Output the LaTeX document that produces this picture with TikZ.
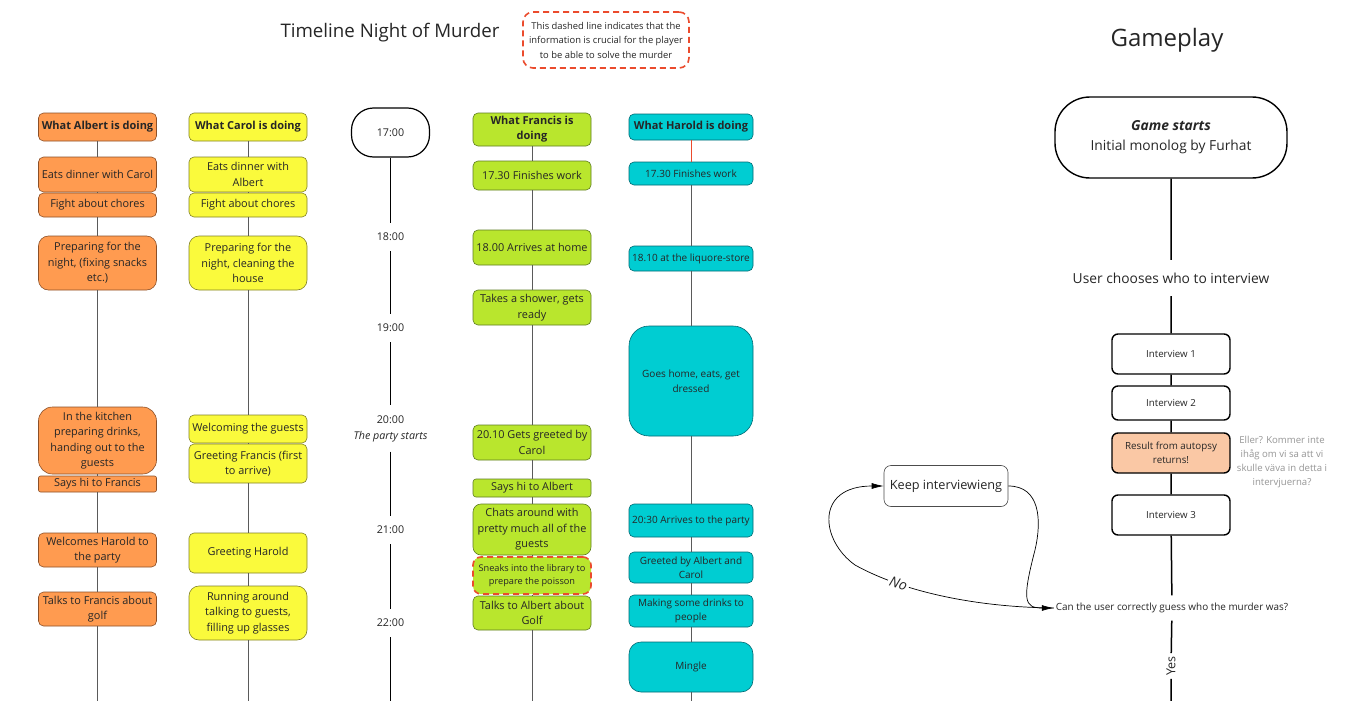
\documentclass[tikz,border=0pt]{standalone}
\usepackage{fontspec}
\setmainfont{Open Sans}
\usetikzlibrary{arrows.meta}

\definecolor{albertfill}{RGB}{255,155,80}
\definecolor{albertline}{RGB}{140,80,40}
\definecolor{carolfill}{RGB}{250,250,60}
\definecolor{carolline}{RGB}{130,130,40}
\definecolor{francisfill}{RGB}{185,230,45}
\definecolor{francisline}{RGB}{95,125,35}
\definecolor{haroldfill}{RGB}{0,205,210}
\definecolor{haroldline}{RGB}{0,105,115}
\definecolor{crucial}{RGB}{235,75,45}
\definecolor{autopsy}{RGB}{250,200,165}
\definecolor{notegray}{RGB}{150,150,150}
\definecolor{linegray}{RGB}{90,90,90}

\tikzset{
  event/.style={draw, rounded corners=5pt, minimum width=118pt, inner sep=1pt,
    align=center, line width=0.6pt, text=black!85,
    font=\fontsize{10.9}{15.5}\selectfont},
  header/.style={font=\bfseries\fontsize{11}{15}\selectfont},
  albert/.style={event, fill=albertfill, draw=albertline},
  carol/.style={event, fill=carolfill, draw=carolline},
  francis/.style={event, fill=francisfill, draw=francisline},
  harold/.style={event, fill=haroldfill, draw=haroldline, minimum width=124pt,
    font=\fontsize{10}{14.5}\selectfont},
  crucialbox/.style={draw=crucial, line width=1.6pt, dash pattern=on 6pt off 4pt},
  clock/.style={inner sep=0pt, minimum height=28pt, align=center,
    text=black!85, font=\fontsize{10.7}{16}\selectfont},
  colline/.style={draw=linegray, line width=0.8pt},
  clockline/.style={line width=1.5pt},
  game/.style={draw, line width=1.4pt, rounded corners=6pt, minimum width=118pt,
    align=center, text=black!85, font=\fontsize{9.7}{13}\selectfont},
  flow/.style={line width=1.5pt},
  loopback/.style={line width=0.7pt, -{Latex[length=12pt,width=6pt]}},
}

\begin{document}
\begin{tikzpicture}[x=1pt, y=-1pt]
    \useasboundingbox[fill=white] (0,0) rectangle (1353,701);

    % Titles
    \node[font=\fontsize{18.7}{22}\selectfont, text=black!85] (title) at (390,33) {Timeline Night of Murder};
    \node[crucialbox, rounded corners=10pt, minimum width=166pt, minimum height=56pt, align=center, inner sep=1pt,
      text=black!85, font=\fontsize{9.4}{14.5}\selectfont] (legend) at (606,40)
      {This dashed line indicates that the\\information is crucial for the player\\to be able to solve the murder};
    \node[font=\fontsize{24}{28}\selectfont, text=black!85] (gameplay) at (1167,40) {Gameplay};

    % Albert
    \node[albert, header, minimum height=28pt] (aH) at (97.5,127) {What Albert is doing};
    \node[albert, minimum height=35pt] (a1) at (97.5,174.5) {Eats dinner with Carol};
    \node[albert, minimum height=24pt] (a2) at (97.5,205) {Fight about chores};
    \node[albert, rounded corners=10pt, minimum height=54pt] (a3) at (97.5,263) {Preparing for the\\night, (fixing snacks\\etc.)};
    \node[albert, rounded corners=14pt, minimum height=67pt] (a4) at (97.5,440.5) {In the kitchen\\preparing drinks,\\handing out to the\\guests};
    \node[albert, rounded corners=2pt, minimum height=16pt] (a5) at (97.5,484) {Says hi to Francis};
    \node[albert, minimum height=34pt] (a6) at (97.5,550) {Welcomes Harold to\\the party};
    \node[albert, minimum height=34pt] (a7) at (97.5,609) {Talks to Francis about\\golf};
    \coordinate (aend) at (97.5,701);

    % Carol
    \node[carol, header, minimum height=28pt] (cH) at (248,127) {What Carol is doing};
    \node[carol, minimum height=35pt] (c1) at (248,174.5) {Eats dinner with\\Albert};
    \node[carol, minimum height=24pt] (c2) at (248,205) {Fight about chores};
    \node[carol, rounded corners=10pt, minimum height=54pt] (c3) at (248,263) {Preparing for the\\night, cleaning the\\house};
    \node[carol, minimum height=28pt] (c4) at (248,429) {Welcoming the guests};
    \node[carol, minimum height=39pt] (c5) at (248,463.5) {Greeting Francis (first\\to arrive)};
    \node[carol, minimum height=40pt] (c6) at (248,553) {Greeting Harold};
    \node[carol, rounded corners=10pt, minimum height=54pt] (c7) at (248,613) {Running around\\talking to guests,\\filling up glasses};
    \coordinate (cend) at (248,701);

    % Clock
    \node[draw, line width=1.2pt, rounded corners=22pt, minimum width=78pt, minimum height=49pt,
      text=black!85, font=\fontsize{10.7}{15}\selectfont] (t17) at (390.5,132.5) {17:00};
    \node[clock] (t18) at (390.5,237) {18:00};
    \node[clock] (t19) at (390.5,328) {19:00};
    \node[clock, minimum height=46pt] (t20) at (390.5,428.5) {20:00\\\textit{The party starts}};
    \node[clock] (t21) at (390.5,530) {21:00};
    \node[clock] (t22) at (390.5,623) {22:00};
    \coordinate (tend) at (390.5,701);

    % Francis
    \node[francis, header, minimum height=33pt] (fH) at (532,129.5) {What Francis is\\doing};
    \node[francis, minimum height=29pt] (f1) at (532,175.5) {17.30 Finishes work};
    \node[francis, minimum height=35pt] (f2) at (532,247.5) {18.00 Arrives at home};
    \node[francis, minimum height=35pt] (f3) at (532,307.5) {Takes a shower, gets\\ready};
    \node[francis, minimum height=35pt] (f4) at (532,442.5) {20.10 Gets greeted by\\Carol};
    \node[francis, rounded corners=3pt, minimum height=18pt] (f5) at (532,488) {Says hi to Albert};
    \node[francis, rounded corners=8pt, minimum height=51pt] (f6) at (532,529.5) {Chats around with\\pretty much all of the\\guests};
    \node[francis, crucialbox, rounded corners=8pt, minimum height=37pt,
      font=\fontsize{9.2}{13.5}\selectfont] (f7) at (532,575.5) {Sneaks into the library to\\prepare the poisson};
    \node[francis, minimum height=34pt] (f8) at (532,613) {Talks to Albert about\\Golf};
    \coordinate (fend) at (532,701);

    % Harold
    \node[harold, header, minimum height=26pt] (hH) at (691,127) {What Harold is doing};
    \node[harold, minimum height=23pt] (h1) at (691,173.5) {17.30 Finishes work};
    \node[harold, minimum height=25pt] (h2) at (691,258.5) {18.10 at the liquore-store};
    \node[harold, rounded corners=20pt, minimum height=110pt] (h3) at (691,381) {Goes home, eats, get\\dressed};
    \node[harold, minimum height=33pt] (h4) at (691,520.5) {20:30 Arrives to the party};
    \node[harold, minimum height=31pt] (h5) at (691,567.5) {Greeted by Albert and\\Carol};
    \node[harold, minimum height=32pt] (h6) at (691,611) {Making some drinks to\\people};
    \node[harold, rounded corners=12pt, minimum height=50pt] (h7) at (691,667) {Mingle};
    \coordinate (hend) at (691,701);

    % Gameplay
    \node[game, rounded corners=35pt, minimum width=232pt, minimum height=81pt,
      font=\fontsize{13.8}{20}\selectfont] (start) at (1171,137.5) {\textbf{\textit{Game starts}}\\Initial monolog by Furhat};
    \node[minimum height=36pt, text=black!85, font=\fontsize{13.8}{16}\selectfont] (choose) at (1171,278) {User chooses who to interview};
    \node[game, minimum height=40pt] (i1) at (1171,354) {Interview 1};
    \node[game, minimum height=34pt] (i2) at (1171,403) {Interview 2};
    \node[game, fill=autopsy, minimum height=40pt, font=\fontsize{9.8}{14}\selectfont] (autopsy) at (1171,453) {Result from autopsy\\returns!};
    \node[game, minimum height=40pt] (i3) at (1171,515) {Interview 3};
    \node[minimum height=25pt, inner sep=2pt, text=black!85, font=\fontsize{9.9}{12}\selectfont] (guess) at (1172,608) {Can the user correctly guess who the murder was?};
    \node[rotate=90, inner sep=3pt, text=black!85, font=\fontsize{12.5}{14}\selectfont] (yes) at (1171,666) {Yes};
    \coordinate (gend) at (1171,701);
    \node[align=center, text=notegray, font=\fontsize{9.6}{14}\selectfont] (unsure) at (1282,462) {Eller? Kommer inte\\ihåg om vi sa att vi\\skulle väva in detta i\\intervjuerna?};
    \node[draw=black!70, line width=0.6pt, rounded corners=7pt, minimum width=124pt, minimum height=41pt,
      text=black!85, font=\fontsize{12.7}{14}\selectfont] (keep) at (946,486) {Keep interviewieng};

    % Draw connections
    \draw[colline] (aH) -- (a1) -- (a2) -- (a3) -- (a4) -- (a5) -- (a6) -- (a7) -- (aend);
    \draw[colline] (cH) -- (c1) -- (c2) -- (c3) -- (c4) -- (c5) -- (c6) -- (c7) -- (cend);
    \draw[clockline] (t17) -- (t18) -- (t19) -- (t20) -- (t21) -- (t22) -- (tend);
    \draw[colline] (fH) -- (f1) -- (f2) -- (f3) -- (f4) -- (f5) -- (f6) -- (f7) -- (f8) -- (fend);
    \draw[draw=crucial, line width=0.6pt] (hH) -- (h1);
    \draw[colline] (h1) -- (h2) -- (h3) -- (h4) -- (h5) -- (h6) -- (h7) -- (hend);
    \draw[flow] (start) -- (choose) -- (i1) -- (i2) -- (autopsy) -- (i3) -- (guess) -- (yes) -- (gend);
    \draw[loopback] (keep.east) .. controls (1040,486) and (1042,520) .. (1035,550)
      .. controls (1022,600) and (1024,608) .. (guess.west);
    \draw[loopback] (guess.west) .. controls (970,607) and (900,590) .. (855,565)
      node[pos=0.72, sloped, fill=white, inner sep=2pt, text=black!85, font=\itshape\fontsize{14}{16}\selectfont] {No}
      .. controls (820,540) and (815,486) .. (keep.west);
\end{tikzpicture}
\end{document}
